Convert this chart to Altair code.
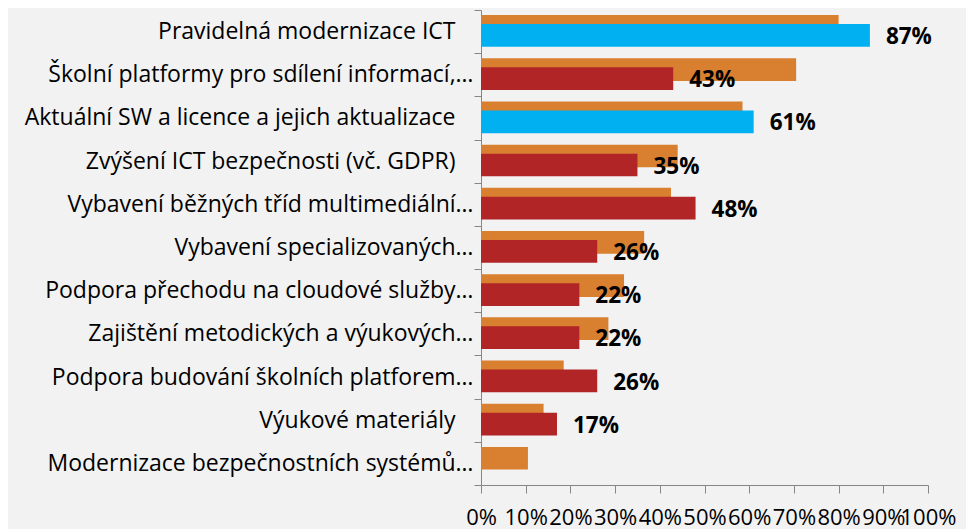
import altair as alt
import pandas as pd

categories = [
    "Pravidelná modernizace ICT",
    "Školní platformy pro sdílení informací,…",
    "Aktuální SW a licence a jejich aktualizace",
    "Zvýšení ICT bezpečnosti (vč. GDPR)",
    "Vybavení běžných tříd multimediální…",
    "Vybavení specializovaných…",
    "Podpora přechodu na cloudové služby…",
    "Zajištění metodických a výukových…",
    "Podpora budování školních platforem…",
    "Výukové materiály",
    "Modernizace bezpečnostních systémů…",
]
orange_values = [80, 70.5, 58.5, 44, 42.5, 36.5, 32, 28.5, 18.5, 14, 10.5]
main_values = [87, 43, 61, 35, 48, 26, 22, 22, 26, 17, None]
highlighted = ["Pravidelná modernizace ICT", "Aktuální SW a licence a jejich aktualizace"]
x_ticks = [0, 0.1, 0.2, 0.3, 0.4, 0.5, 0.6, 0.7, 0.8, 0.9, 1.0]

df = pd.DataFrame({
    "cat": categories,
    "o": [v / 100 for v in orange_values],
    "r": [None if v is None else v / 100 for v in main_values],
})
df["group"] = ["hl" if c in highlighted else "base" for c in categories]

FONT = "Open Sans"

y_enc = alt.Y(
    "cat:N",
    sort=categories,
    scale=alt.Scale(paddingInner=0, paddingOuter=0),
    axis=alt.Axis(
        title=None, labelFont=FONT, labelFontSize=23, labelColor="black",
        tickBand="extent", tickSize=7, domainColor="#868686", tickColor="#868686",
        labelPadding={"condition": {"test": "indexof(datum.label, '…') < 0", "value": 19}, "value": 1},
        labelLimit=700, grid=False,
    ),
)
x_scale = alt.Scale(domain=[0, 1], nice=False)
x_axis = alt.Axis(
    title=None, format="%", values=x_ticks, labelOverlap=False, labelFlush=False,
    tickSize=8, labelFont=FONT, labelFontSize=22, labelColor="black",
    labelPadding=14, grid=False, domainColor="#868686", tickColor="#868686",
)

base = alt.Chart(df)

orange = base.mark_bar(color="#D97F30", height=22.7, yOffset=-5.15).encode(
    y=y_enc, x=alt.X("o:Q", scale=x_scale, axis=x_axis)
)
main = base.transform_filter("datum.r != null").mark_bar(height=22.7, yOffset=3.85).encode(
    y=y_enc,
    x=alt.X("r:Q", scale=x_scale, axis=x_axis),
    color=alt.Color("group:N", scale=alt.Scale(domain=["base", "hl"], range=["#B22526", "#00B0F0"]), legend=None),
)
labels = base.transform_filter("datum.r != null").mark_text(
    align="left", baseline="middle", dx=16, yOffset=5.5,
    font=FONT, fontSize=22.5, fontWeight="bold", color="black",
).encode(
    y=y_enc,
    x=alt.X("r:Q", scale=x_scale, axis=x_axis),
    text=alt.Text("r:Q", format=".0%"),
)

chart = alt.layer(orange, main, labels).properties(
    width=447, height=475,
    autosize=alt.AutoSizeParams(type="none"),
    padding={"left": 473, "top": 2, "right": 38, "bottom": 44},
    background="#F2F2F2",
).configure_view(stroke=None)

chart.save("out.html", embed_options={"renderer": "svg", "actions": False})
